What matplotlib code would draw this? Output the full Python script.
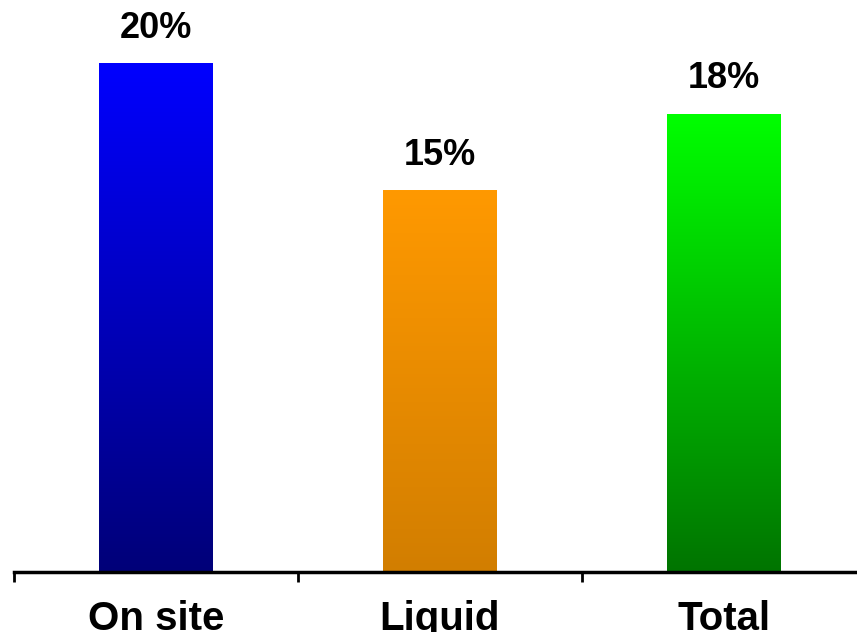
import numpy as np
import matplotlib.pyplot as plt
from matplotlib.colors import LinearSegmentedColormap
from matplotlib.patches import Rectangle

categories = ['On site', 'Liquid', 'Total']
values = [20, 15, 18]
top_colors = ['#0000FF', '#FF9900', '#00FF00']
bottom_colors = ['#000078', '#D27E00', '#007400']

plt.rcParams['font.family'] = ['Liberation Sans', 'DejaVu Sans']

fig = plt.figure(figsize=(8.57, 6.32), dpi=100)
ax = fig.add_axes([14 / 857, 60 / 632, 852 / 857, 572 / 632])

x = np.arange(len(categories))
width = 0.4
bars = ax.bar(x, values, width=width, color='none', edgecolor='none')

# vertical gradient inside each bar
grad = np.linspace(0, 1, 256).reshape(-1, 1)
for bar, c_top, c_bot, v in zip(bars, top_colors, bottom_colors, values):
    cmap = LinearSegmentedColormap.from_list('g', [c_bot, c_top])
    x0 = bar.get_x()
    im = ax.imshow(grad, cmap=cmap, aspect='auto', origin='lower',
                   extent=[x0, x0 + width, 0, v], zorder=2)
    im.set_clip_path(Rectangle((x0, 0), width, v, transform=ax.transData))
    ax.text(x0 + width / 2, v + 1.0, f'{v}%', ha='center', va='baseline',
            fontsize=26, fontweight='bold')

ax.set_xlim(-0.5, 2.5)
ax.set_ylim(0, 20 * 572 / 509)

for side in ['left', 'right', 'top']:
    ax.spines[side].set_visible(False)
ax.spines['bottom'].set_linewidth(2.5)
ax.set_yticks([])

ax.set_xticks([-0.5, 0.5, 1.5, 2.5])
ax.set_xticklabels([])
ax.tick_params(axis='x', direction='out', length=7, width=2)
ax.set_xticks(x, minor=True)
ax.set_xticklabels(categories, minor=True, fontsize=29, fontweight='bold')
ax.tick_params(axis='x', which='minor', length=0, pad=20)

fig.savefig('out.png', dpi=100)
